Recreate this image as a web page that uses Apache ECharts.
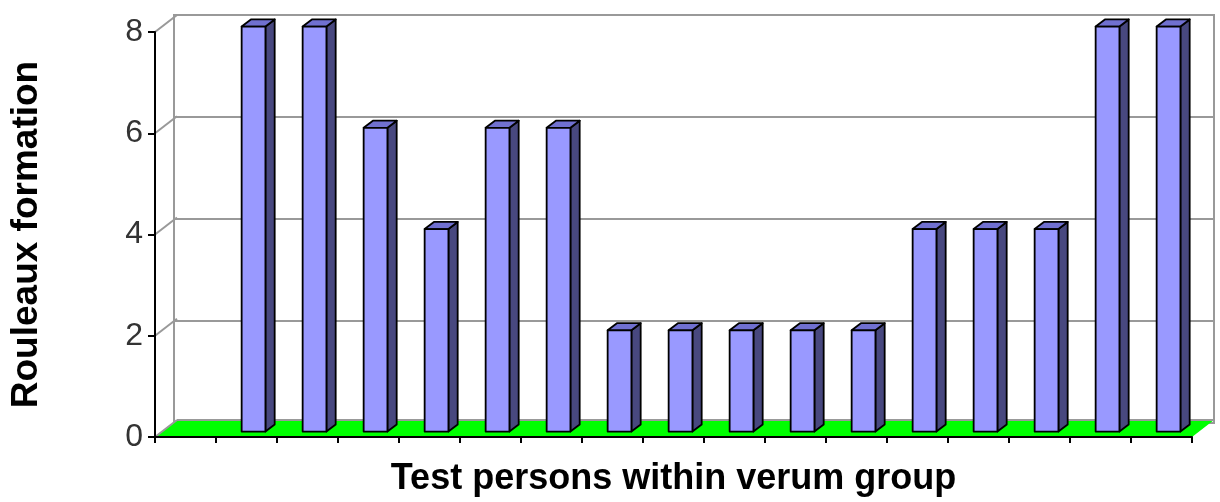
<!DOCTYPE html>
<html><head><meta charset="utf-8">
<script src="https://cdn.jsdelivr.net/npm/echarts@6/dist/echarts.min.js"></script>
<style>html,body{margin:0;padding:0;background:#fff}#c{width:1220px;height:502px}</style>
</head><body><div id="c"></div>
<script>
// ---- data ----
const categories = ['1','2','3','4','5','6','7','8','9','10','11','12','13','14','15','16','17'];
const values = [null, 8, 8, 6, 4, 6, 6, 2, 2, 2, 2, 2, 4, 4, 4, 8, 8];
const yTicks = [0, 2, 4, 6, 8];
const yAxisTitle = 'Rouleaux formation';
const xAxisTitle = 'Test persons within verum group';

// ---- style constants ----
const DX = 22, DY = -17;          // depth offset of back wall
const F1 = 0.32, F2 = 0.74;       // bar depth span (fraction of depth)
const BAR_W = 0.39;               // bar width as fraction of band
const FONT = '"Liberation Sans", Arial, sans-serif';

const chart = echarts.init(document.getElementById('c'), null, {renderer: 'canvas'});

function floorItem(params, api) {
  const band = api.size([1, 0])[0];
  const p0 = api.coord([0, 0]);
  const p1 = api.coord([categories.length - 1, 0]);
  const x0 = p0[0] - band / 2, x1 = p1[0] + band / 2, y0 = p0[1];
  const children = [{
    type: 'polygon',
    shape: {points: [[x0, y0], [x1, y0], [x1 + DX, y0 + DY], [x0 + DX, y0 + DY]]},
    style: {fill: '#00FF00', stroke: null}
  }, {
    type: 'line',
    shape: {x1: x0 + DX, y1: y0 + DY, x2: x1 + DX, y2: y0 + DY},
    style: {stroke: '#999', lineWidth: 2}
  }];
  yTicks.forEach(v => {
    const y = api.coord([0, v])[1];
    children.push({
      type: 'line',
      shape: {x1: x0, y1: y, x2: x0 + DX, y2: y + DY},
      style: {stroke: '#999', lineWidth: 2}
    });
  });
  return {type: 'group', children};
}

function barItem(params, api) {
  const v = api.value(1);
  if (v == null || isNaN(v)) return;
  const band = api.size([1, 0])[0];
  const c = api.coord([api.value(0), v]);
  const b = api.coord([api.value(0), 0]);
  const w = band * BAR_W;
  const ox = F1 * DX, oy = F1 * DY;
  const dx = (F2 - F1) * DX, dy = (F2 - F1) * DY;
  const xl = c[0] - w / 2 + ox, xr = c[0] + w / 2 + ox;
  const yt = c[1] + oy, yb = b[1] + oy;
  const st = {stroke: '#000', lineWidth: 1.8, lineJoin: 'round'};
  return {
    type: 'group',
    children: [
      {type: 'polygon', shape: {points: [[xr, yt], [xr + dx, yt + dy], [xr + dx, yb + dy], [xr, yb]]},
       style: Object.assign({fill: '#48487F'}, st)},
      {type: 'polygon', shape: {points: [[xl, yt], [xr, yt], [xr + dx, yt + dy], [xl + dx, yt + dy]]},
       style: Object.assign({fill: '#7070D0'}, st)},
      {type: 'rect', shape: {x: xl, y: yt, width: xr - xl, height: yb - yt},
       style: Object.assign({fill: '#9999FF'}, st)}
    ]
  };
}

const option = {
  animation: false,
  backgroundColor: '#fff',
  grid: [
    {left: 152, right: 28, top: 32, bottom: 62, show: false},
    {left: 152 + DX, right: 28 - DX, top: 32 + DY, bottom: 62 - DY, show: true,
     borderColor: '#999', borderWidth: 2, backgroundColor: 'transparent'}
  ],
  xAxis: [
    {type: 'category', gridIndex: 0, data: categories, boundaryGap: true, z: 5,
     axisLine: {show: true, lineStyle: {color: '#000', width: 2}},
     axisTick: {show: true, length: 6, lineStyle: {color: '#000', width: 2}},
     axisLabel: {show: false},
     name: xAxisTitle, nameLocation: 'middle', nameGap: 24,
     nameTextStyle: {fontFamily: FONT, fontSize: 36, fontWeight: 'bold', color: '#000'}},
    {type: 'category', gridIndex: 1, data: categories, show: false}
  ],
  yAxis: [
    {type: 'value', gridIndex: 0, min: 0, max: 8, interval: 2, z: 5,
     axisLine: {show: true, lineStyle: {color: '#000', width: 2}},
     axisTick: {show: true, length: 7, lineStyle: {color: '#000', width: 2}},
     splitLine: {show: false},
     axisLabel: {fontFamily: FONT, fontSize: 32, color: '#333', margin: 12,
                 formatter: v => yTicks.includes(v) ? String(v) : ''},
     name: yAxisTitle, nameLocation: 'middle', nameRotate: 90, nameGap: 110,
     nameTextStyle: {fontFamily: FONT, fontSize: 37, fontWeight: 'bold', color: '#000'}},
    {type: 'value', gridIndex: 1, min: 0, max: 8, interval: 2,
     axisLine: {show: false}, axisTick: {show: false}, axisLabel: {show: false},
     splitLine: {show: true, lineStyle: {color: '#999', width: 2}}}
  ],
  series: [
    {type: 'custom', xAxisIndex: 0, yAxisIndex: 0, z: 1, silent: true,
     data: [[0, 0]], renderItem: floorItem, clip: false},
    {type: 'custom', xAxisIndex: 0, yAxisIndex: 0, z: 3,
     data: values.map((v, i) => [i, v]), renderItem: barItem, clip: false,
     encode: {x: 0, y: 1}}
  ]
};
chart.setOption(option);
</script>
</body></html>
